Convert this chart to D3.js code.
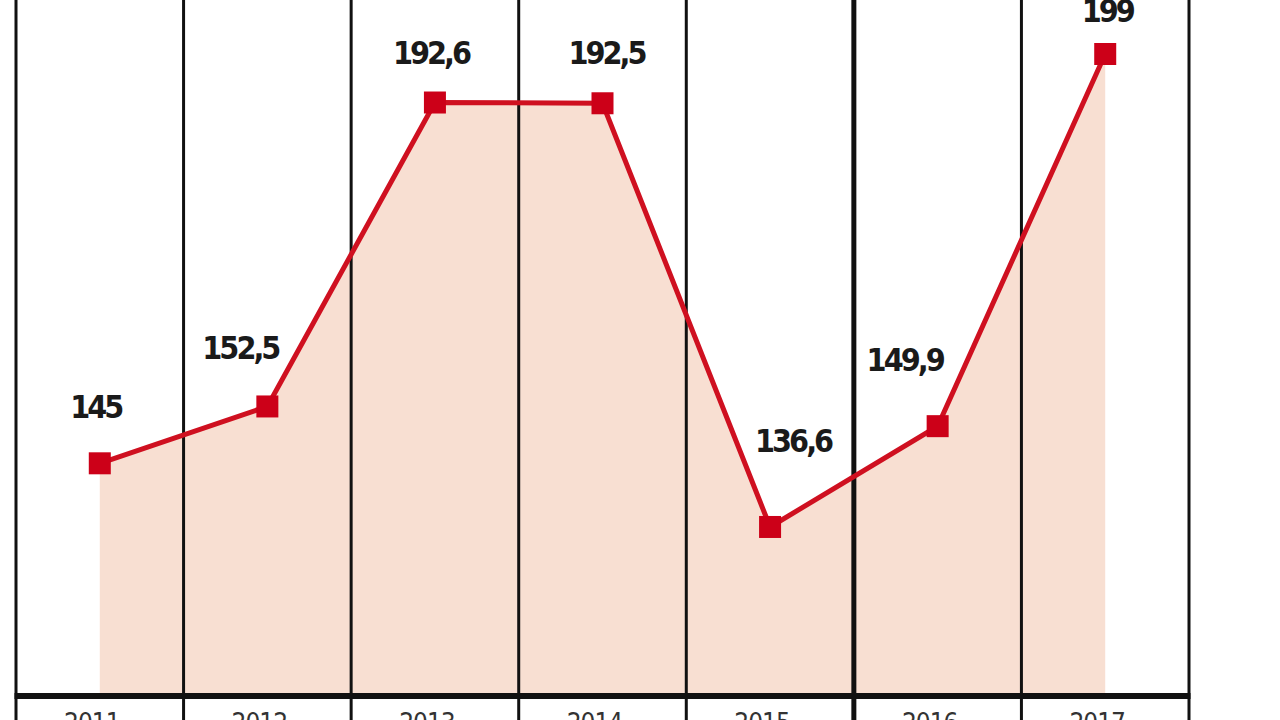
<!DOCTYPE html>
<meta charset="utf-8">
<script src="https://d3js.org/d3.v7.js"></script>
<style>
  body { margin: 0; background: #fff; overflow: hidden; }
</style>
<div id="chart"></div>
<script>
    // data
    const years = ["2011", "2012", "2013", "2014", "2015", "2016", "2017"];
    const values = [145, 152.5, 192.6, 192.5, 136.6, 149.9, 199];
    const valueLabels = ["145", "152,5", "192,6", "192,5", "136,6", "149,9", "199"];

    // hand placed label nudges (dx, dy from the marker)
    const labelNudge = [[-4, -45], [-27, -47], [-4, -39], [4, -39], [23, -75], [-33, -55], [2, -32]];

    const width = 1280, height = 720;
    const left = 16, right = 1189, bottom = 696;

    const svg = d3.select("#chart")
      .append("svg")
        .attr("width", width)
        .attr("height", height);

    const x = d3.scaleBand()
      .domain(years)
      .range([left, right])
      .padding(0);

    const y = d3.scaleLinear()
      .domain([114.3, 199])
      .range([bottom, 54]);

    const cx = d => x(d) + x.bandwidth() / 2;
    const data = years.map((yr, i) => ({year: yr, value: values[i], label: valueLabels[i], nudge: labelNudge[i]}));

    // shaded area under the line
    const area = d3.area()
      .x(d => cx(d.year))
      .y0(bottom)
      .y1(d => y(d.value));

    svg.append("path")
      .datum(data)
      .attr("d", area)
      .attr("fill", "#f8dfd2");

    // vertical grid lines on band edges
    const edges = years.map(d => x(d)).concat([right]);
    svg.selectAll(".vline")
      .data(edges)
      .join("line")
        .attr("x1", d => d)
        .attr("x2", d => d)
        .attr("y1", 0)
        .attr("y2", height)
        .attr("stroke", "#111")
        .attr("stroke-width", (d, i) => i === 5 ? 5 : 3);

    // bottom axis line
    svg.append("line")
      .attr("x1", left - 1.5)
      .attr("x2", right + 1.5)
      .attr("y1", bottom)
      .attr("y2", bottom)
      .attr("stroke", "#111")
      .attr("stroke-width", 6);

    // year labels (cut off by the frame, as in the original)
    svg.selectAll(".year")
      .data(years)
      .join("text")
        .attr("x", d => cx(d) - 8)
        .attr("y", 732)
        .attr("text-anchor", "middle")
        .style("font-family", "'DejaVu Sans Condensed', sans-serif")
        .style("font-size", "26px")
        .style("letter-spacing", "-1px")
        .attr("fill", "#333")
        .text(d => d);

    // the line
    const line = d3.line()
      .x(d => cx(d.year))
      .y(d => y(d.value));

    svg.append("path")
      .datum(data)
      .attr("d", line)
      .attr("fill", "none")
      .attr("stroke", "#cf1020")
      .attr("stroke-width", 5);

    // square markers
    const s = 22;
    svg.selectAll(".mark")
      .data(data)
      .join("rect")
        .attr("x", d => cx(d.year) - s / 2)
        .attr("y", d => y(d.value) - s / 2)
        .attr("width", s)
        .attr("height", s)
        .attr("fill", "#cc0018");

    // value labels
    svg.selectAll(".val")
      .data(data)
      .join("text")
        .attr("x", d => cx(d.year) + d.nudge[0])
        .attr("y", d => y(d.value) + d.nudge[1])
        .attr("text-anchor", "middle")
        .style("font-family", "'DejaVu Sans Condensed', sans-serif")
        .style("font-weight", "bold")
        .style("font-size", "32px")
        .style("letter-spacing", "-3px")
        .attr("fill", "#1a1a1a")
        .text(d => d.label);
</script>
